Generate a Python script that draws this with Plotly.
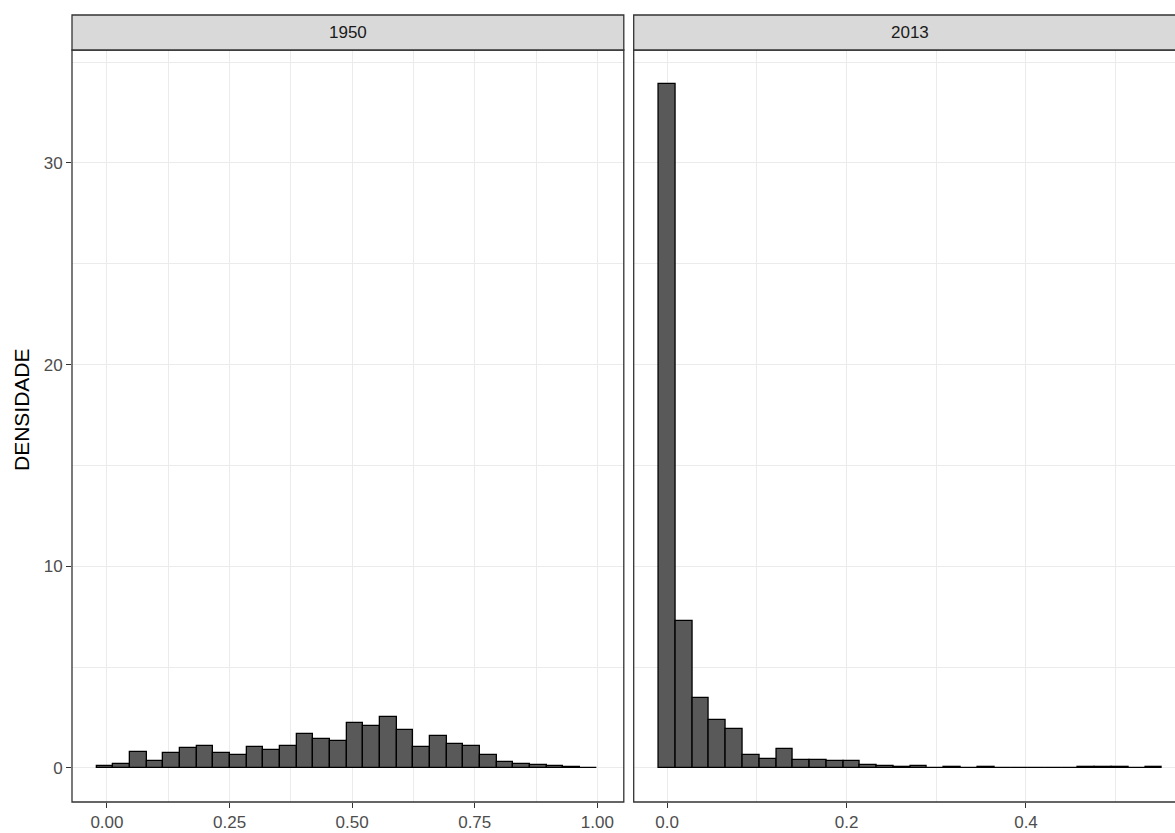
import plotly.graph_objects as go

# ---------------- data ----------------
panels = ["1950", "2013"]

# 1950 histogram (density), 30 bins
bins_1950 = [-0.004, 0.030, 0.064, 0.098, 0.132, 0.166, 0.200, 0.234, 0.268, 0.302,
             0.336, 0.370, 0.404, 0.438, 0.472, 0.506, 0.540, 0.574, 0.608, 0.642,
             0.676, 0.710, 0.744, 0.778, 0.812, 0.846, 0.880, 0.914, 0.948, 0.982]
dens_1950 = [0.07, 0.20, 0.79, 0.33, 0.73, 0.96, 1.09, 0.73, 0.65, 1.03,
             0.86, 1.09, 1.69, 1.42, 1.32, 2.20, 2.05, 2.50, 1.90, 1.03,
             1.56, 1.19, 1.09, 0.65, 0.27, 0.18, 0.13, 0.07, 0.02, 0.01]
width_1950 = 0.034

# 2013 histogram (density), 30 bins
bins_2013 = [0.0000, 0.0187, 0.0374, 0.0561, 0.0748, 0.0935, 0.1122, 0.1309, 0.1496, 0.1683,
             0.1870, 0.2057, 0.2244, 0.2431, 0.2618, 0.2805, 0.2992, 0.3179, 0.3366, 0.3553,
             0.3740, 0.3927, 0.4114, 0.4301, 0.4488, 0.4675, 0.4862, 0.5049, 0.5236, 0.5423]
dens_2013 = [33.9, 7.30, 3.48, 2.35, 1.91, 0.62, 0.45, 0.91, 0.40, 0.38,
             0.33, 0.33, 0.15, 0.10, 0.05, 0.10, 0.00, 0.05, 0.00, 0.05,
             0.00, 0.00, 0.00, 0.00, 0.00, 0.05, 0.05, 0.05, 0.00, 0.05]
width_2013 = 0.0187

x_ticks_1950 = [0.0, 0.25, 0.5, 0.75, 1.0]
x_ticks_2013 = [0.0, 0.2, 0.4]
y_ticks = [0, 10, 20, 30]
y_title = "DENSIDADE"

# ---------------- styling ----------------
W, H = 1175, 833
FONT = "Liberation Sans, Arial, sans-serif"
BAR_FILL = "#595959"
GRID = "#EBEBEB"
BORDER = "#333333"
TICKTXT = "#4D4D4D"


def px_x(p):
    return p / W


def px_y(p):
    return 1 - p / H


left_dom = [px_x(72), px_x(623.8)]
right_dom = [px_x(633.7), 1.0]
right_edge_full = px_x(1185.7)
y_dom = [px_y(802), px_y(50)]
strip_top = px_y(15)

fig = go.Figure()
fig.add_trace(go.Bar(x=bins_1950, y=dens_1950, width=width_1950,
                     marker=dict(color=BAR_FILL, line=dict(color="black", width=1.3)),
                     xaxis="x", yaxis="y", showlegend=False))
fig.add_trace(go.Bar(x=bins_2013, y=dens_2013, width=width_2013,
                     marker=dict(color=BAR_FILL, line=dict(color="black", width=1.3)),
                     xaxis="x2", yaxis="y2", showlegend=False))

common_x = dict(showline=False, zeroline=False, showgrid=True, gridcolor=GRID, gridwidth=1.4,
                ticks="outside", ticklen=5, tickwidth=1.2, tickcolor=BORDER,
                tickfont=dict(family=FONT, size=17, color=TICKTXT))

fig.update_layout(
    width=W, height=H,
    margin=dict(l=0, r=0, t=0, b=0),
    paper_bgcolor="white", plot_bgcolor="white",
    bargap=0,
    xaxis=dict(domain=left_dom, range=[-0.0713, 1.054], anchor="y",
               tickvals=x_ticks_1950, tickformat=".2f",
               minor=dict(dtick=0.125, tick0=0, showgrid=True, gridcolor=GRID, gridwidth=0.8),
               **common_x),
    xaxis2=dict(domain=right_dom, range=[-0.0373, 0.5661], anchor="y2",
                tickvals=x_ticks_2013, tickformat=".1f",
                minor=dict(dtick=0.1, tick0=0, showgrid=True, gridcolor=GRID, gridwidth=0.8),
                **common_x),
    yaxis=dict(domain=y_dom, range=[-1.695, 35.6], anchor="x",
               tickvals=y_ticks, showline=False, zeroline=False,
               showgrid=True, gridcolor=GRID, gridwidth=1.4,
               minor=dict(dtick=5, tick0=0, showgrid=True, gridcolor=GRID, gridwidth=0.8),
               ticks="outside", ticklen=5, tickwidth=1.2, tickcolor=BORDER,
               tickfont=dict(family=FONT, size=17, color=TICKTXT)),
    yaxis2=dict(domain=y_dom, range=[-1.695, 35.6], anchor="x2", matches="y",
                tickvals=y_ticks, showticklabels=False, ticks="",
                showline=False, zeroline=False,
                showgrid=True, gridcolor=GRID, gridwidth=1.4,
                minor=dict(dtick=5, tick0=0, showgrid=True, gridcolor=GRID, gridwidth=0.8)),
)

shapes = []
for x0, x1 in [(left_dom[0], left_dom[1]), (right_dom[0], right_edge_full)]:
    # panel border
    shapes.append(dict(type="rect", xref="paper", yref="paper", x0=x0, x1=x1,
                       y0=y_dom[0], y1=y_dom[1], line=dict(color=BORDER, width=1.3),
                       fillcolor="rgba(0,0,0,0)", layer="above"))
    # facet strip
    shapes.append(dict(type="rect", xref="paper", yref="paper", x0=x0, x1=x1,
                       y0=y_dom[1], y1=strip_top, line=dict(color=BORDER, width=1.3),
                       fillcolor="#D9D9D9", layer="above"))
fig.update_layout(shapes=shapes)

annotations = []
strip_mid = (y_dom[1] + strip_top) / 2
for label, cx in zip(panels, [(left_dom[0] + left_dom[1]) / 2, (right_dom[0] + right_edge_full) / 2]):
    annotations.append(dict(text=label, x=cx, y=strip_mid, xref="paper", yref="paper",
                            xanchor="center", yanchor="middle", showarrow=False,
                            font=dict(family=FONT, size=17, color="#1A1A1A")))
annotations.append(dict(text=y_title, x=px_x(22), y=px_y(410), xref="paper", yref="paper",
                        xanchor="center", yanchor="middle", showarrow=False, textangle=-90,
                        font=dict(family=FONT, size=21, color="black")))
fig.update_layout(annotations=annotations)

fig.write_html("out.html",
               config={"displayModeBar": False},
               post_script="document.body.style.margin='0px';document.body.style.overflow='hidden';")
